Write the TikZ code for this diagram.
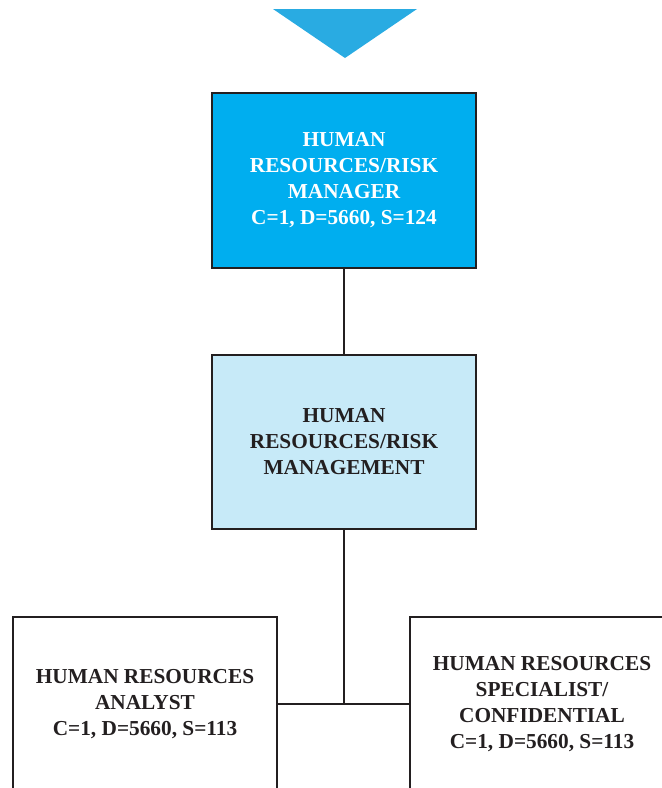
\documentclass[tikz,border=0pt]{standalone}
\usepackage{fontspec}
\setmainfont{Liberation Serif}
\definecolor{arrowblue}{HTML}{29ABE2}
\definecolor{headfill}{HTML}{00AEEF}
\definecolor{deptfill}{HTML}{C7EAF8}
\definecolor{ink}{HTML}{231F20}
\begin{document}
\begin{tikzpicture}[x=1pt,y=-1pt,
  orgbox/.style={draw=ink, line width=2pt, minimum width=264pt, minimum height=174pt,
    inner sep=0pt, align=center, text=ink,
    font=\bfseries\fontsize{21.3}{26}\selectfont},
  link/.style={draw=ink, line width=1.8pt}]
\useasboundingbox (0,0) rectangle (662,788);
\clip (0,0) rectangle (662,788);

% pointer from the level above
\fill[arrowblue] (273,9) -- (417,9) -- (345,58) -- cycle;

% boxes
\node[orgbox, fill=headfill, text=white, minimum height=175pt] (mgr) at (344,180.5)
  {HUMAN\\RESOURCES/RISK\\MANAGER\\C=1, D=5660, S=124};
\node[orgbox, fill=deptfill] (dept) at (344,442)
  {HUMAN\\RESOURCES/RISK\\MANAGEMENT};
\node[orgbox, fill=white] (analyst) at (145,704)
  {HUMAN RESOURCES\\ANALYST\\C=1, D=5660, S=113};
\node[orgbox, fill=white] (spec) at (542,704)
  {HUMAN RESOURCES\\SPECIALIST/\\CONFIDENTIAL\\C=1, D=5660, S=113};

% connectors
\draw[link] (mgr.south) -- (dept.north);
\coordinate (j) at (dept.south |- analyst.east);
\draw[link] (dept.south) -- (j);
\draw[link] (analyst.east) -- (spec.west);
\end{tikzpicture}
\end{document}
